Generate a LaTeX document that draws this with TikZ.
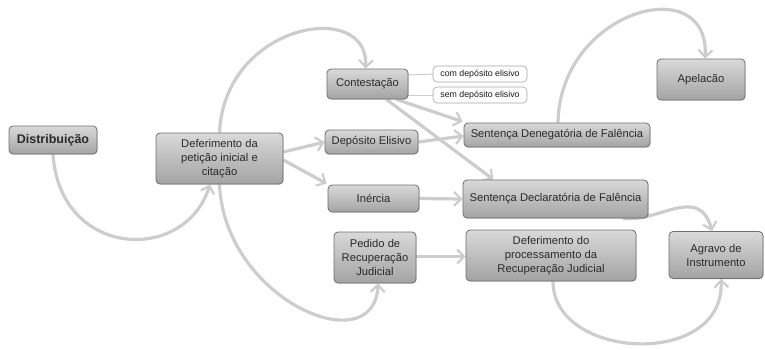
\documentclass[tikz,border=0pt]{standalone}
\usepackage{fontspec}
\setmainfont{Liberation Sans}
\usetikzlibrary{arrows.meta,shadows,backgrounds}
\definecolor{conn}{HTML}{CDCDCD}
\definecolor{boxtop}{HTML}{D9D9D9}
\definecolor{boxbot}{HTML}{A3A3A3}
\definecolor{boxline}{HTML}{6E6E6E}
\definecolor{txt}{HTML}{2A2A2A}
\begin{document}
\begin{tikzpicture}[x=1pt,y=-1pt,
 box/.style={draw=boxline, line width=0.8pt, rounded corners=4pt, top color=boxtop, bottom color=boxbot, text=txt, align=center, inner sep=0pt, font=\fontsize{11.2}{14}\selectfont, drop shadow={shadow xshift=0.8pt,shadow yshift=-0.8pt,opacity=0.25}},
 tag/.style={draw=gray!70, line width=0.6pt, fill=white, rounded corners=4pt, text=gray!20!black, inner sep=0pt, minimum width=94pt, minimum height=16pt, font=\fontsize{8.8}{10}\selectfont},
 link/.style={conn, line width=3.2pt, -{Straight Barb[length=7pt,width=14pt,line width=2.2pt]}},
 thinlink/.style={conn, line width=1pt}]
\useasboundingbox (0,0) rectangle (765,349);
\node[box, minimum width=88pt, minimum height=28pt, font=\bfseries\fontsize{12.5}{15}\selectfont] (dist) at (53,140) {Distribuição};
\node[box, minimum width=127pt, minimum height=51pt] (def) at (219.5,158.5) {Deferimento da\\petição inicial e\\citação};
\node[box, minimum width=81pt, minimum height=30pt] (cont) at (367.5,84) {Contestação};
\node[box, minimum width=93pt, minimum height=24pt] (dep) at (371.5,142) {Depósito Elisivo};
\node[box, minimum width=91pt, minimum height=27pt] (ine) at (373.5,198.5) {Inércia};
\node[box, minimum width=82pt, minimum height=51pt] (ped) at (375,257.5) {Pedido de\\Recuperação\\Judicial};
\node[tag] (com) at (480,74) {com depósito elisivo};
\node[tag] (sem) at (480,95) {sem depósito elisivo};
\node[box, minimum width=186pt, minimum height=24pt] (den) at (557,135) {Sentença Denegatória de Falência};
\node[box, minimum width=185pt, minimum height=38pt] (dec) at (555.5,199) {Sentença Declaratória de Falência};
\node[box, minimum width=170pt, minimum height=51pt] (dpr) at (551,255.5) {Deferimento do\\processamento da\\Recuperação Judicial};
\node[box, minimum width=88pt, minimum height=41pt] (ape) at (701,79.5) {Apelacão};
\node[box, minimum width=94pt, minimum height=47pt] (agr) at (716,255) {Agravo de\\Instrumento};
\begin{scope}[on background layer]
\draw[link] (dist.south) .. controls +(7,104) and +(-25,80) .. ([xshift=-9.5pt]def.south);
\draw[link] (def.north) .. controls +(5,-110) and +(4,-70) .. ([xshift=-2pt]cont.north);
\draw[link] (def.south) .. controls +(5,116) and +(-3,80) .. ([xshift=3pt]ped.south);
\draw[link] ([yshift=6.5pt]def.east) -- (dep.west);
\draw[link] ([yshift=-1.5pt]def.east) -- ([xshift=-1pt,yshift=1pt]ine.north west);
\draw[link] ([xshift=-12pt]cont.south east) -- ([xshift=-1pt,yshift=1pt]den.north west);
\draw[link] ([xshift=-22pt]cont.south east) -- ([xshift=-62pt]dec.north);
\draw[link] (dep.east) -- ([yshift=-1pt]den.west);
\draw[link] (ine.east) -- (dec.west);
\draw[link] ([yshift=1pt]ped.east) -- ([yshift=-1pt]dpr.west);
\draw[thinlink] ([yshift=9pt]cont.east) -- (com.west);
\draw[thinlink] ([yshift=-11pt]cont.east) -- (sem.west);
\draw[link] ([xshift=1pt]den.north) .. controls +(2,-113) and +(5,-89) .. ([xshift=4pt]ape.north);
\draw[link] ([xshift=67.5pt]dec.south) .. controls +(37,4) and +(-13,-47) .. ([xshift=-4pt]agr.north);
\draw[link] ([xshift=2pt]dpr.south) .. controls +(0,79) and +(4,90) .. ([xshift=5pt]agr.south);
\end{scope}
\end{tikzpicture}
\end{document}
